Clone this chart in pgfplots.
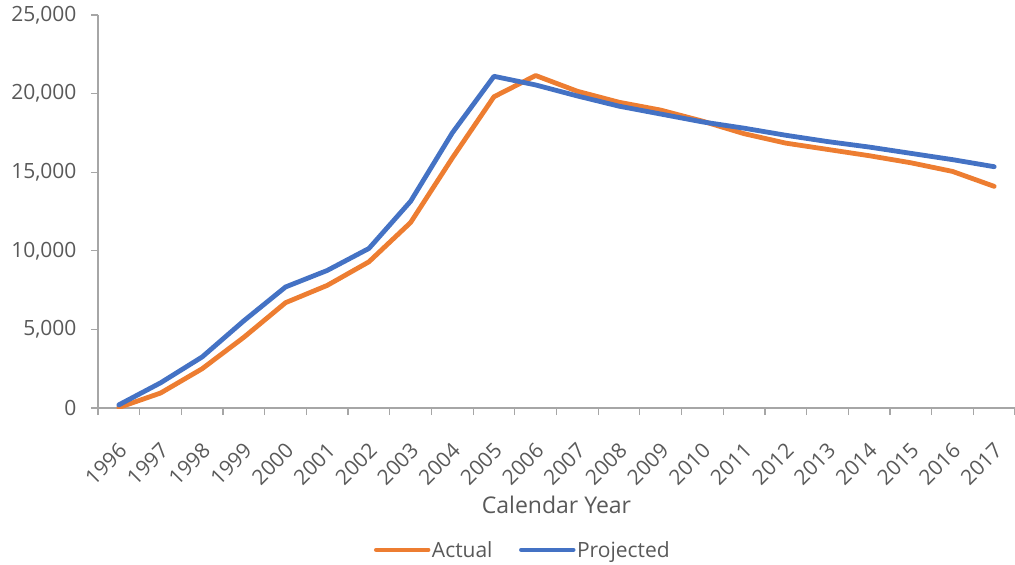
\documentclass[border=0pt]{standalone}
\usepackage{pgfplots}
\pgfplotsset{compat=1.18}
\usepackage{fontspec}
\setmainfont{Open Sans}
\definecolor{actualc}{HTML}{ED7D31}
\definecolor{projc}{HTML}{4472C4}
\definecolor{txt}{HTML}{595959}
\definecolor{axc}{HTML}{A6A6A6}
\begin{document}
\begin{tikzpicture}
\begin{axis}[
  name=ax,
  scale only axis,
  width=917bp, height=393bp,
  xmin=-0.5, xmax=21.5,
  ymin=0, ymax=25000,
  ytick={0,5000,10000,15000,20000,25000},
  scaled y ticks=false,
  xtick={0,...,21},
  xticklabels={1996,1997,1998,1999,2000,2001,2002,2003,2004,2005,2006,2007,2008,2009,2010,2011,2012,2013,2014,2015,2016,2017},
  minor xtick={-0.5,0.5,...,21.5},
  axis x line*=bottom, axis y line*=left,
  axis line style={axc, line width=1.2bp, -},
  tick align=outside,
  major tick length=7bp,
  minor tick length=7bp,
  x tick style={draw=none},
  minor x tick style={draw=axc, line width=1.2bp},
  y tick style={draw=axc, line width=1.2bp},
  tick label style={font=\fontsize{21bp}{25bp}\selectfont, text=txt},
  xticklabel style={rotate=45, anchor=north east, inner sep=1bp, yshift=-16.5bp, xshift=-18.5bp},
  yticklabel style={anchor=east, xshift=-11bp},
  /pgf/number format/.cd, 1000 sep={,}, assume math mode=true,
  /pgfplots/.cd,
  xlabel={Calendar Year},
  xlabel style={font=\fontsize{23bp}{27bp}\selectfont, text=txt, at={(0.5,0)}, anchor=center, yshift=-97bp},
  legend style={draw=none, fill=none, at={(0.463,-0.361)}, anchor=center,
    font=\fontsize{21bp}{25bp}\selectfont, text=txt,
    /tikz/every odd column/.style={column sep=0bp},
    /tikz/every even column/.style={column sep=25bp},
    nodes={inner sep=1.5bp}},
  legend columns=2,
  legend image code/.code={\draw[#1, line width=4.5bp, line cap=round] (0bp,0bp) -- (52bp,0bp);},
  legend cell align=left,
]
\addplot[actualc, line width=4.8bp, line join=round, line cap=round] coordinates {
(0,30) (1,950) (2,2500) (3,4500) (4,6700) (5,7800) (6,9300) (7,11800) (8,15900) (9,19800)
(10,21150) (11,20150) (12,19450) (13,18950) (14,18250) (15,17450) (16,16850) (17,16450)
(18,16050) (19,15600) (20,15050) (21,14100)};
\addlegendentry{Actual}
\addplot[projc, line width=4.8bp, line join=round, line cap=round] coordinates {
(0,200) (1,1600) (2,3250) (3,5550) (4,7700) (5,8750) (6,10150) (7,13150) (8,17500) (9,21100)
(10,20550) (11,19850) (12,19200) (13,18700) (14,18200) (15,17800) (16,17350) (17,16950)
(18,16600) (19,16200) (20,15800) (21,15350)};
\addlegendentry{Projected}
\end{axis}
\pgfresetboundingbox
\path[use as bounding box] (ax.south west) ++(-98bp,-157bp) rectangle ++(1015bp,565bp);
\end{tikzpicture}
\end{document}
